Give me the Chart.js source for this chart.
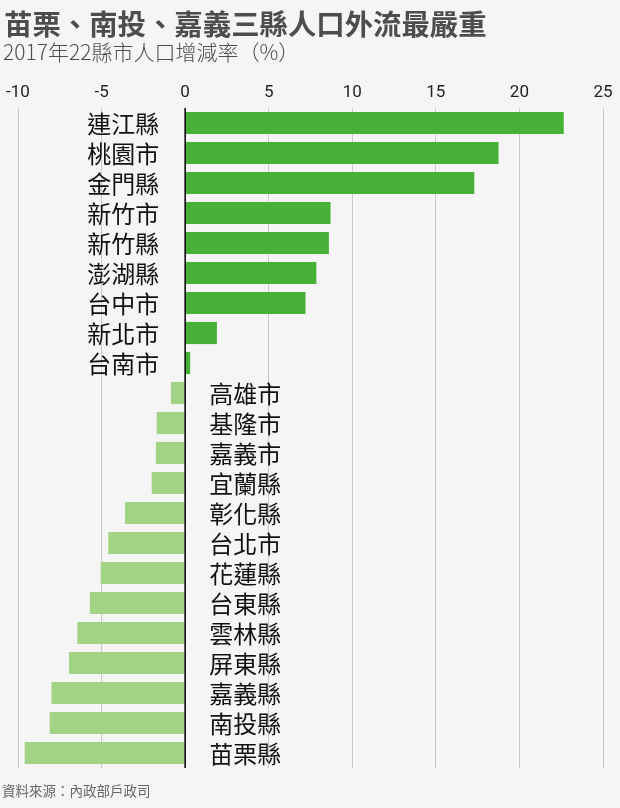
<!DOCTYPE html>
<html>
<head>
<meta charset="utf-8">
<script src="https://cdn.jsdelivr.net/npm/chart.js@4"></script>
<style>
  html, body { margin: 0; padding: 0; background: #f5f5f5; }
  #wrap { position: relative; width: 620px; height: 808px; overflow: hidden; }
  #title { position: absolute; left: 4px; top: 2px; font: bold 28.4px "Noto Sans CJK TC", sans-serif; color: #4d4d4d; white-space: nowrap; }
  #subtitle { position: absolute; left: 3px; top: 36px; font: 300 21px "Noto Sans CJK TC", sans-serif; color: #4d4d4d; white-space: nowrap; }
  #source { position: absolute; left: 2px; top: 780px; font: 13.5px "Noto Sans CJK TC", sans-serif; color: #666; white-space: nowrap; }
  #box { position: absolute; left: 0; top: 0; width: 620px; height: 808px; }
</style>
</head>
<body>
<div id="wrap">
  <div id="box"><canvas id="barChart"></canvas></div>
  <div id="title">苗栗、南投、嘉義三縣人口外流最嚴重</div>
  <div id="subtitle">2017年22縣市人口增減率（%）</div>
  <div id="source">資料來源：內政部戶政司</div>
</div>
<script>
// 資料
const counties = ['連江縣', '桃園市', '金門縣', '新竹市', '新竹縣', '澎湖縣', '台中市', '新北市', '台南市',
  '高雄市', '基隆市', '嘉義市', '宜蘭縣', '彰化縣', '台北市', '花蓮縣', '台東縣', '雲林縣', '屏東縣',
  '嘉義縣', '南投縣', '苗栗縣'];
const rates = [22.65, 18.75, 17.3, 8.7, 8.6, 7.85, 7.2, 1.9, 0.3,
  -0.85, -1.7, -1.75, -2.0, -3.6, -4.6, -5.05, -5.7, -6.45, -6.95,
  -8.0, -8.1, -9.6];
const xTicks = [-10, -5, 0, 5, 10, 15, 20, 25];

const posColor = '#46b037';
const negColor = '#a3d385';

// 標籤與零軸
const labelPlugin = {
  id: 'countyLabels',
  afterDatasetsDraw(chart) {
    const ctx = chart.ctx;
    const area = chart.chartArea;
    const x0 = chart.scales.x.getPixelForValue(0);
    ctx.save();
    ctx.strokeStyle = '#000';
    ctx.lineWidth = 1.5;
    ctx.beginPath();
    ctx.moveTo(x0, area.top);
    ctx.lineTo(x0, area.bottom);
    ctx.stroke();

    ctx.font = '24px "Noto Sans CJK TC", sans-serif';
    ctx.fillStyle = '#111';
    ctx.textBaseline = 'middle';
    chart.getDatasetMeta(0).data.forEach((bar, i) => {
      if (rates[i] >= 0) {
        ctx.textAlign = 'right';
        ctx.fillText(counties[i], x0 - 26, bar.y + 1);
      } else {
        ctx.textAlign = 'left';
        ctx.fillText(counties[i], x0 + 24, bar.y + 1);
      }
    });
    ctx.restore();
  }
};

const ctxBar = document.getElementById('barChart').getContext('2d');
const barChart = new Chart(ctxBar, {
  type: 'bar',
  data: {
    labels: counties,
    datasets: [{
      data: rates,
      backgroundColor: rates.map(v => v >= 0 ? posColor : negColor),
      borderWidth: 0,
      barPercentage: 0.74,
      categoryPercentage: 1
    }]
  },
  options: {
    indexAxis: 'y',
    responsive: true,
    maintainAspectRatio: false,
    animation: false,
    layout: {
      padding: { left: 18, right: 17, top: 0, bottom: 40 }
    },
    plugins: {
      legend: { display: false },
      tooltip: { enabled: false }
    },
    scales: {
      x: {
        position: 'top',
        min: -10,
        max: 25,
        afterFit(scale) { scale.height = 108; },
        afterBuildTicks(scale) { scale.ticks = xTicks.map(v => ({ value: v })); },
        grid: { color: '#c8c8c8', lineWidth: 1, drawTicks: false },
        border: { display: false },
        ticks: {
          padding: 5,
          color: '#222',
          font: { family: '"Liberation Sans Narrow", "Roboto", sans-serif', size: 17 }
        }
      },
      y: {
        display: false
      }
    }
  },
  plugins: [labelPlugin]
});
</script>
</body>
</html>
